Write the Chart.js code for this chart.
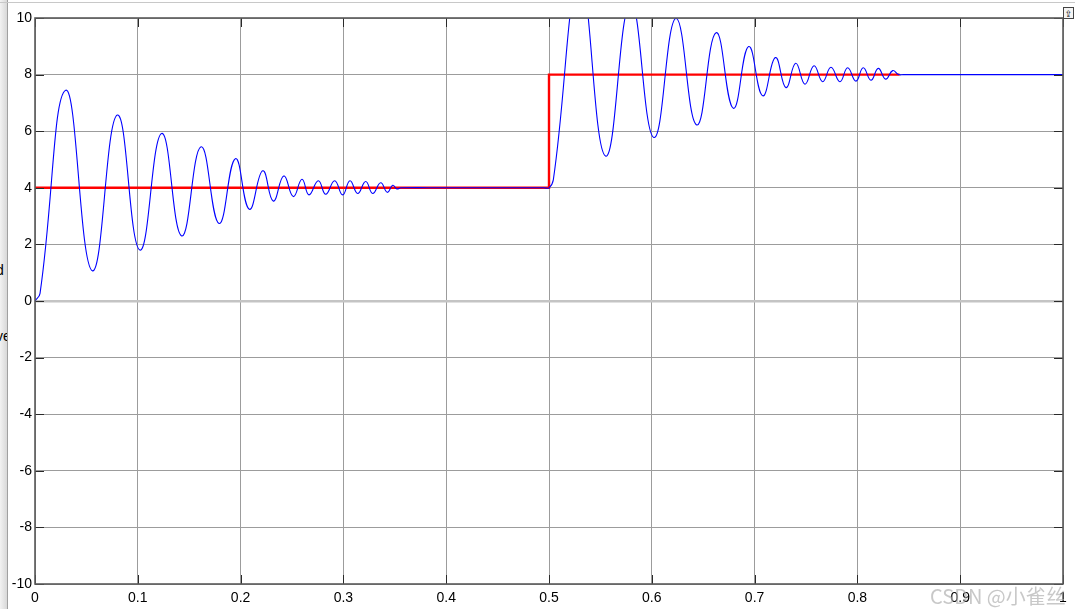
<!DOCTYPE html>
<html>
<head>
<meta charset="utf-8">
<script src="https://cdn.jsdelivr.net/npm/chart.js@4/dist/chart.umd.min.js"></script>
<style>
html,body{margin:0;padding:0;background:#fff;}
#wrap{position:relative;width:1075px;height:609px;overflow:hidden;}
#strip{position:absolute;left:0;top:0;width:7px;height:609px;background:linear-gradient(to right,#f2f2f2,#d8d8d8);border-right:1px solid #a0a0a0;overflow:hidden;font:14px "Liberation Sans",Arial,sans-serif;color:#000;}
#strip span{position:absolute;left:-4px;}
#topline{position:absolute;left:0;top:2px;width:1075px;height:1px;background:#c8c8c8;}
#btn{position:absolute;left:1063px;top:7px;width:11px;height:12px;border:1px solid #444;background:#f4f4f4;font:9px "DejaVu Sans",sans-serif;line-height:12px;text-align:center;box-sizing:border-box;}
#wm{position:absolute;left:930px;top:581px;font:20px "Noto Sans CJK SC","DejaVu Sans",sans-serif;color:rgba(170,170,170,0.65);white-space:nowrap;pointer-events:none;}
canvas{position:absolute;left:0;top:0;}
</style>
</head>
<body>
<div id="wrap">
<canvas id="c" width="1075" height="609"></canvas>
<div id="strip"><span style="top:262px">d</span><span style="top:328px">ve</span><span style="top:425px">\</span></div>
<div id="topline"></div>
<div id="btn">&#8682;</div>
<div id="wm">CSDN @小雀丝</div>
</div>
<script>
// ---- data ----
const xTicks = [0,0.1,0.2,0.3,0.4,0.5,0.6,0.7,0.8,0.9,1];
const xTickLabels = ['0','0.1','0.2','0.3','0.4','0.5','0.6','0.7','0.8','0.9','1'];
const yTicks = [-10,-8,-6,-4,-2,0,2,4,6,8,10];
const yTickLabels = ['-10','-8','-6','-4','-2','0','2','4','6','8','10'];

// response (blue): start, peaks/troughs, settle
const outX = [0,0.0049,0.0299,0.0557,0.080,0.102,0.1232,0.1427,0.1615,0.179,0.1949,0.2085,0.2215,0.2318,0.242,0.2513,0.2597,0.2665,0.2756,0.2828,0.2915,0.2993,0.3064,0.3139,0.3217,0.3285,0.3363,0.3427,0.348,0.352,0.356,0.40,0.45,0.495,
  0.5,0.5042,0.5299,0.555,0.5793,0.602,0.6235,0.6437,0.6625,0.6793,0.6942,0.7079,0.7202,0.7305,0.740,0.749,0.7578,0.7662,0.7743,0.783,0.7905,0.7986,0.8057,0.8132,0.8203,0.8275,0.8343,0.840,0.845,0.90,1.0];
const outY = [0,0.27,7.45,1.07,6.57,1.80,5.92,2.30,5.45,2.74,5.03,3.24,4.60,3.53,4.42,3.69,4.30,3.75,4.25,3.77,4.25,3.75,4.25,3.80,4.22,3.80,4.18,3.84,4.09,3.96,4.0,4.0,4.0,4.0,
  4.0,4.28,11.4,5.12,10.55,5.78,9.99,6.22,9.48,6.81,8.99,7.25,8.60,7.54,8.40,7.66,8.31,7.75,8.26,7.75,8.24,7.77,8.24,7.80,8.22,7.84,8.14,8.0,8.0,8.0,8.0];

// reference (red)
const refX = [0,0.5,0.5,0.841];
const refY = [4,4,8,8];

const toPts = (xs, ys) => xs.map((x, i) => ({x: x, y: ys[i]}));

const frame = {
  id: 'frame',
  afterDatasetsDraw(chart) {
    const {ctx, chartArea: a, scales} = chart;
    ctx.save();
    ctx.strokeStyle = '#2a2a2a';
    ctx.lineWidth = 1;
    ctx.beginPath();
    xTicks.forEach(v => {
      const px = Math.round(scales.x.getPixelForValue(v)) + 0.5;
      ctx.moveTo(px, a.bottom); ctx.lineTo(px, a.bottom - 9);
      ctx.moveTo(px, a.top); ctx.lineTo(px, a.top + 9);
    });
    yTicks.forEach(v => {
      const py = Math.round(scales.y.getPixelForValue(v)) + 0.5;
      ctx.moveTo(a.left, py); ctx.lineTo(a.left + 9, py);
      ctx.moveTo(a.right, py); ctx.lineTo(a.right - 9, py);
    });
    ctx.stroke();
    ctx.strokeStyle = '#5a5a5a';
    ctx.lineWidth = 1.6;
    ctx.strokeRect(a.left, a.top, a.right - a.left, a.bottom - a.top);
    ctx.restore();
  }
};

new Chart(document.getElementById('c'), {
  type: 'line',
  data: {
    datasets: [
      {data: toPts(outX, outY), borderColor: '#0000ff', borderWidth: 1.1, pointRadius: 0, tension: 0.45, fill: false},
      {data: toPts(refX, refY), borderColor: '#ff0000', borderWidth: 2.4, pointRadius: 0, tension: 0, fill: false}
    ]
  },
  options: {
    responsive: false,
    animation: false,
    events: [],
    layout: {padding: {top: 18, right: 12, left: 0, bottom: 0}},
    plugins: {legend: {display: false}, tooltip: {enabled: false}},
    scales: {
      x: {
        type: 'linear', min: 0, max: 1,
        afterBuildTicks: s => { s.ticks = xTicks.map(v => ({value: v})); },
        afterFit: s => { s.height = 25; },
        grid: {color: '#9c9c9c', lineWidth: 1, drawTicks: false},
        border: {display: false},
        ticks: {padding: 6, color: '#000', maxRotation: 0, autoSkip: false,
          font: {family: '"Liberation Sans", Arial, sans-serif', size: 14},
          callback: (v, i) => xTickLabels[i]}
      },
      y: {
        type: 'linear', min: -10, max: 10,
        afterBuildTicks: s => { s.ticks = yTicks.map(v => ({value: v})); },
        afterFit: s => { s.width = 35; },
        grid: {color: c => c.tick && c.tick.value === 0 ? '#c4c4c4' : '#9c9c9c',
               lineWidth: c => c.tick && c.tick.value === 0 ? 2.5 : 1, drawTicks: false},
        border: {display: false},
        ticks: {padding: 3, color: '#000', autoSkip: false,
          font: {family: '"Liberation Sans", Arial, sans-serif', size: 14},
          callback: (v, i) => yTickLabels[i]}
      }
    }
  },
  plugins: [frame]
});
</script>
</body>
</html>
